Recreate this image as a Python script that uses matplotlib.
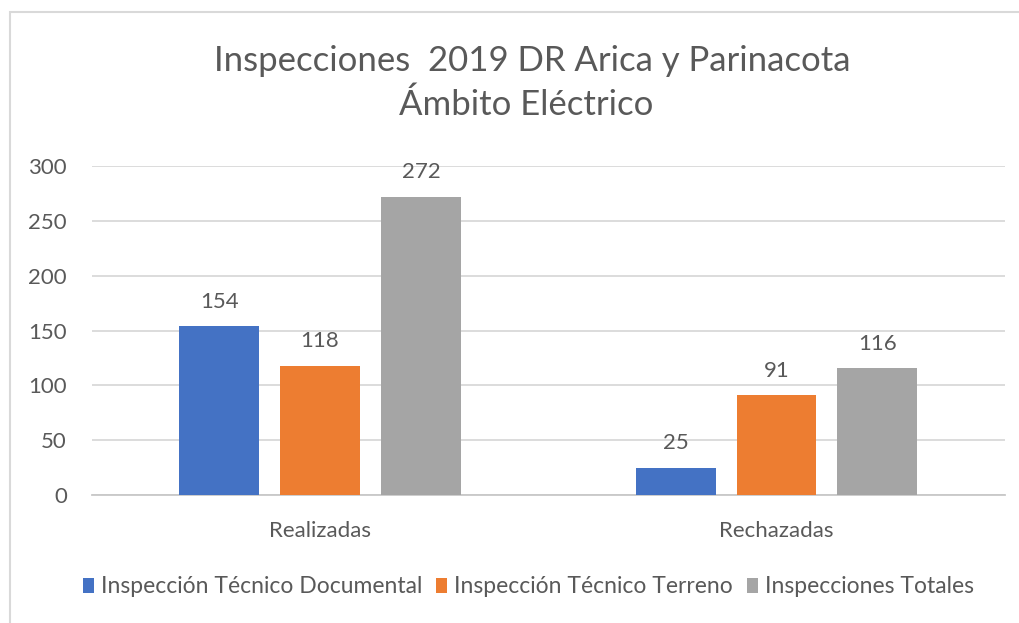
import numpy as np
from matplotlib import pyplot as plt
from matplotlib.patches import Rectangle

categorias = ["Realizadas", "Rechazadas"]
series = ["Inspección Técnico Documental", "Inspección Técnico Terreno", "Inspecciones Totales"]
documental = [154, 25]
terreno = [118, 91]
totales = [272, 116]
colores = ["#4472C4", "#ED7D31", "#A5A5A5"]

plt.rcParams['font.family'] = ['Lato', 'DejaVu Sans']
gris = "#595959"

fig = plt.figure(figsize=(10.2, 6.23), dpi=100)
ax = fig.add_axes([0.090, 0.2055, 0.895, 0.528])

# marco del area del grafico
fig.patches.append(Rectangle((10 / 1020, -0.1), 1.2, 1 - 12 / 623 + 0.1,
                             transform=fig.transFigure, fill=False,
                             edgecolor="#d9d9d9", linewidth=1.5))

x = np.arange(len(categorias))
ancho = 0.175
paso = 0.221
for i, (vals, nombre) in enumerate(zip([documental, terreno, totales], series)):
    barras = ax.bar(x + (i - 1) * paso, vals, ancho, color=colores[i], label=nombre, zorder=3)
    for b, v in zip(barras, vals):
        ax.text(b.get_x() + b.get_width() / 2, v + 13, str(v), ha="center", va="bottom",
                fontsize=16, color=gris)

ax.set_xlim(-0.5, 1.5)
ax.set_ylim(0, 300)
ax.set_yticks(range(0, 301, 50))
ax.set_xticks(x)
ax.set_xticklabels(categorias)
ax.tick_params(axis="both", length=0, labelsize=16, labelcolor=gris)
ax.tick_params(axis="x", pad=19)
ax.tick_params(axis="y", pad=18)
ax.grid(axis="y", color="#d9d9d9", linewidth=1.3, zorder=0)
for s in ["top", "right", "left"]:
    ax.spines[s].set_visible(False)
ax.spines["bottom"].set_color("#c8c8c8")
ax.spines["bottom"].set_linewidth(1.3)

fig.text(0.522, 0.902, "Inspecciones  2019 DR Arica y Parinacota", ha="center", va="center",
         fontsize=25, color=gris)
fig.text(0.516, 0.832, "Ámbito Eléctrico", ha="center", va="center", fontsize=25, color=gris)

fig.legend(loc="center", bbox_to_anchor=(0.518, 0.058), ncol=3, frameon=False,
           fontsize=16.5, labelcolor=gris, handlelength=0.5, handleheight=0.6,
           handletextpad=0.3, columnspacing=0.6)

fig.savefig("out.png", dpi=100)
